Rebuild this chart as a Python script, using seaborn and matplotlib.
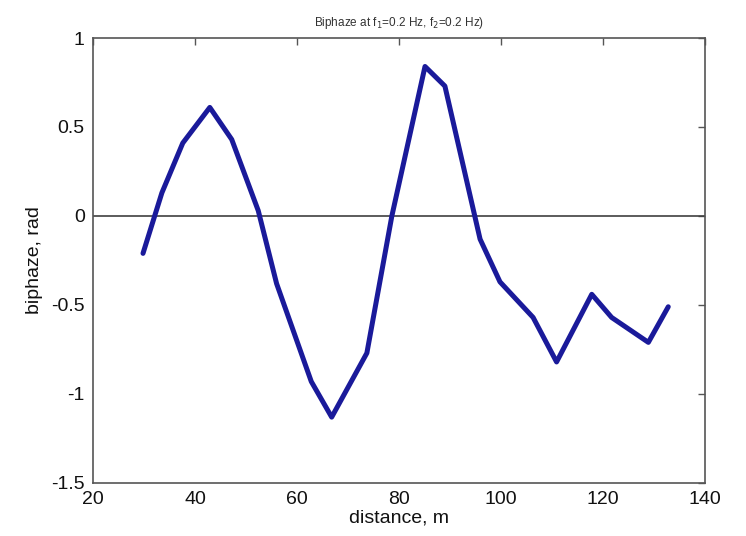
import matplotlib
matplotlib.use("Agg")
import matplotlib.pyplot as plt
import seaborn as sns
import pandas as pd

distance = [29.8, 33.5, 37.6, 42.9, 47.2, 52.4, 56.0, 62.8, 66.8, 73.7,
            78.6, 85.1, 89.0, 95.9, 99.8, 106.3, 110.9, 117.8, 121.7, 128.9, 132.8]
biphaze = [-0.21, 0.13, 0.41, 0.61, 0.43, 0.03, -0.38, -0.93, -1.13, -0.77,
           0.0, 0.84, 0.73, -0.13, -0.37, -0.57, -0.82, -0.44, -0.57, -0.71, -0.51]
xticks = [20, 40, 60, 80, 100, 120, 140]
yticks = [-1.5, -1, -0.5, 0, 0.5, 1]
yticklabels = ["-1.5", "-1", "-0.5", "0", "0.5", "1"]

sns.set_style("white")
plt.rcParams['font.family'] = ['Liberation Sans', 'DejaVu Sans']

df = pd.DataFrame({"distance": distance, "biphaze": biphaze})

fig = plt.figure(figsize=(7.46, 5.36), dpi=100)
ax = fig.add_axes([0.1247, 0.0989, 0.8203, 0.8302])
ax.axhline(0, color="#404040", lw=1.2, zorder=1)
sns.lineplot(data=df, x="distance", y="biphaze", ax=ax, color="#1a1a9a",
             lw=3.6, sort=False, zorder=3)

ax.set_xlim(20, 140)
ax.set_ylim(-1.5, 1)
ax.set_xticks(xticks)
ax.set_xticklabels([str(t) for t in xticks])
ax.set_yticks(yticks)
ax.set_yticklabels(yticklabels)
ax.tick_params(direction="in", length=5, width=1, top=True, right=True,
               labelsize=14, color="#555555", labelcolor="#111111")
ax.tick_params(axis="x", pad=6)
ax.tick_params(axis="y", pad=6)
for s in ax.spines.values():
    s.set_color("#555555")
    s.set_linewidth(1.2)
    s.set_visible(True)

ax.set_xlabel("distance, m", fontsize=14, labelpad=1, color="#111111")
ax.set_ylabel("biphaze, rad", fontsize=14, labelpad=6, color="#111111")
ax.set_title("Biphaze at f$_1$=0.2 Hz, f$_2$=0.2 Hz)", fontsize=8.5, color="#333333", pad=9)

fig.savefig("out.png", dpi=100)
